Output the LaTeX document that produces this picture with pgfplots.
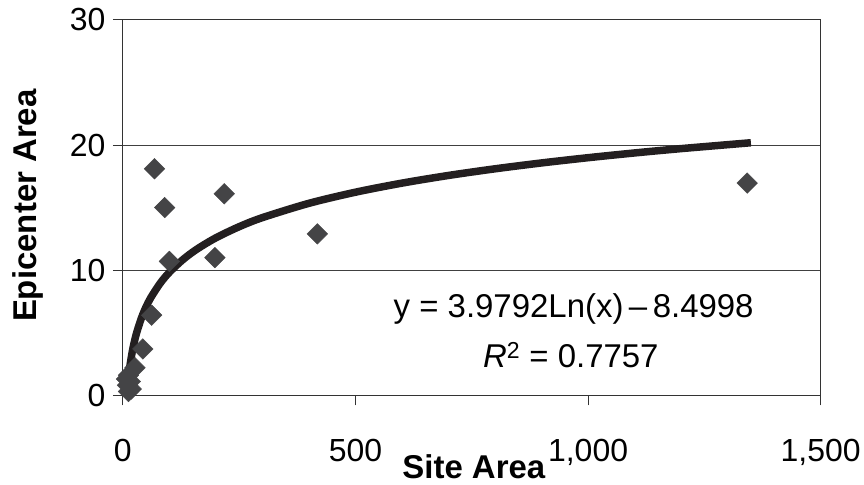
\documentclass[border=0pt]{standalone}
\usepackage{pgfplots}
\pgfplotsset{compat=1.18}
\usepackage{fontspec}
\setmainfont{Liberation Sans}
\definecolor{mk}{RGB}{68,68,70}
\definecolor{ln}{RGB}{35,31,32}
\begin{document}
\begin{tikzpicture}
\begin{axis}[
  scale only axis,
  width=699pt,
  height=376pt,
  xmin=0, xmax=1500,
  ymin=0, ymax=30,
  xtick={0,500,1000,1500},
  ytick={0,10,20,30},
  ymajorgrids=true,
  major grid style={black!75,line width=0.8pt},
  axis line style={black!80,line width=0.9pt},
  tick style={black!80,line width=0.9pt},
  tick align=outside,
  xtick pos=bottom,
  ytick pos=left,
  major tick length=10pt,
  /pgf/number format/1000 sep={,},
  /pgf/number format/assume math mode=true,
  tick label style={font=\fontsize{32}{38}\selectfont},
  xticklabel style={yshift=-30pt},
  yticklabel style={xshift=-4pt},
  clip=false,
]
\addplot[
  only marks,
  mark=square*,
  mark size=7.3pt,
  mark options={rotate=45,fill=mk,draw=mk},
] coordinates {
  (1342,16.96)
  (418,12.9)
  (218,16.1)
  (198,11.0)
  (68,18.1)
  (90,15.0)
  (100,10.7)
  (62,6.4)
  (43,3.7)
  (26,2.2)
  (12,1.6)
  (16,1.1)
  (10,0.8)
  (18,0.5)
  (12,0.3)
  (8,1.3)
};
\addplot[ln, line width=7.5pt, smooth] coordinates {
  (9.5,0.459)
  (12,1.388)
  (15,2.276)
  (20,3.421)
  (25,4.309)
  (30,5.034)
  (40,6.179)
  (50,7.067)
  (60,7.792)
  (80,8.937)
  (100,9.825)
  (130,10.869)
  (160,11.695)
  (200,12.583)
  (250,13.471)
  (300,14.197)
  (400,15.341)
  (500,16.229)
  (600,16.955)
  (700,17.568)
  (800,18.099)
  (900,18.568)
  (1000,18.987)
  (1100,19.367)
  (1200,19.713)
  (1350,20.182)
};
\node[anchor=base,font=\fontsize{33}{40}\selectfont] at (axis cs:969,6.2) {y = 3.9792Ln(x)\,\textendash\,8.4998};
\node[anchor=base,font=\fontsize{33}{40}\selectfont] at (axis cs:963,2.25) {\textit{R}\textsuperscript{2} = 0.7757};
\node[anchor=base,font=\bfseries\fontsize{33}{40}\selectfont] at (rel axis cs:0.503,-0.221) {Site Area};
\node[anchor=base,font=\bfseries\fontsize{33}{40}\selectfont,rotate=90] at (rel axis cs:-0.123,0.505) {Epicenter Area};
\path (rel axis cs:-0.176,-0.237) (rel axis cs:1.06,1.053);
\end{axis}
\end{tikzpicture}
\end{document}
